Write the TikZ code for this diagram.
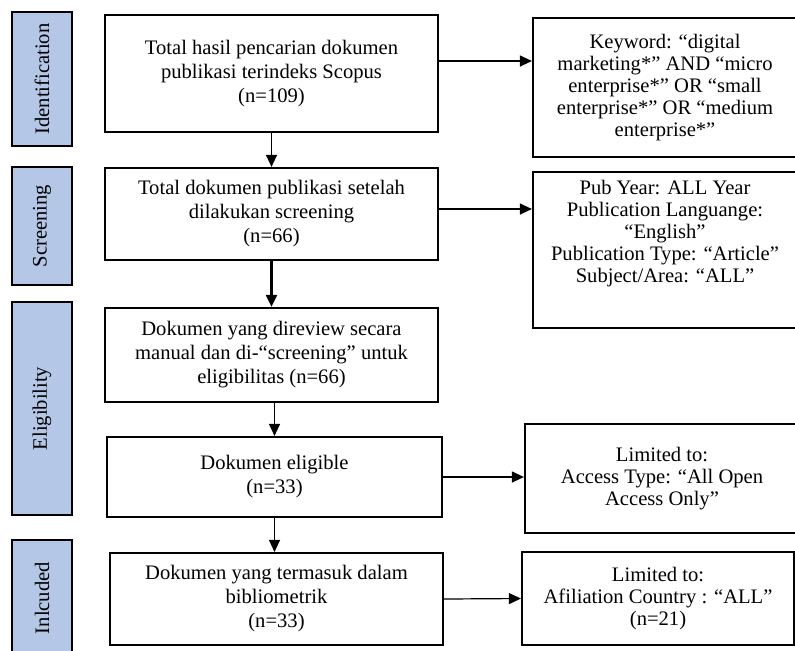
\documentclass[tikz,border=0pt]{standalone}
\usepackage{fontspec}
\setmainfont{Liberation Serif}
\usetikzlibrary{arrows.meta,positioning,calc}
\definecolor{stageblue}{HTML}{B4C7E7}

\begin{document}
\begin{tikzpicture}[x=0.5pt,y=-0.5pt,>={Triangle[length=6pt,width=5.5pt]},font=\fontsize{10.3}{12}\selectfont,stage/.style={draw,line width=1pt,fill=stageblue,rotate=90,minimum height=30pt,inner sep=0pt},block/.style={draw,line width=1.1pt,align=center,minimum width=166.5pt,inner sep=2pt},filter/.style={draw,line width=1.1pt,align=center,font=\fontsize{10.3}{11}\selectfont,inner sep=2pt},flow/.style={->,line width=0.6pt}]
 \useasboundingbox (0,0) rectangle (795,650);
 \clip (0,0) rectangle (795,650);
 \node[stage,minimum width=67pt] (ident) at (42,79) {Identification};
 \node[stage,minimum width=59pt] (screen) at (42,226) {Screening};
 \node[stage,minimum width=106.5pt] (elig) at (42,408.5) {Eligibility};
 \node[stage,minimum width=58pt] (incl) at (42,598) {Inlcuded};
 \node[block,minimum height=58.5pt] (total) at (271.5,73.5) {Total hasil pencarian dokumen\\publikasi terindeks Scopus\\(n=109)};
 \node[block,minimum height=46pt] (screened) at (271.5,214) {Total dokumen publikasi setelah\\dilakukan screening\\(n=66)};
 \node[block,minimum height=47pt] (reviewed) at (271.5,355) {Dokumen yang direview secara\\manual dan di-“screening” untuk\\eligibilitas (n=66)};
 \node[block,minimum width=167.5pt,minimum height=40pt] (eligible) at (274.5,477) {Dokumen eligible\\(n=33)};
 \node[block,minimum height=46pt] (included) at (276.5,599) {Dokumen yang termasuk dalam\\bibliometrik\\(n=33)};
 \node[filter,minimum width=132pt,minimum height=69.5pt] (keyword) at (665,87.5) {Keyword: “digital\\marketing*” AND “micro\\enterprise*” OR “small\\enterprise*” OR “medium\\enterprise*”};
 \node[filter,minimum width=132pt,minimum height=78pt] (criteria) at (665,250) {};
 \node[align=center,font=\fontsize{10.3}{11}\selectfont] (criteriatext) at ([yshift=8pt]criteria.center) {Pub Year: ALL Year\\Publication Languange:\\“English”\\Publication Type: “Article”\\Subject/Area: “ALL”};
 \node[filter,minimum width=137pt,minimum height=54.5pt] (access) at (662,478.5) {Limited to:\\Access Type: “All Open\\Access Only”};
 \node[filter,minimum width=136pt,minimum height=46.5pt] (country) at (658,598.5) {Limited to:\\Afiliation Country : “ALL”\\(n=21)};
 \draw[flow] ([yshift=6.25pt]total.east) -- ([yshift=6.25pt]total.east -| keyword.west);
 \draw[flow] ([yshift=2.5pt]screened.east) -- ([yshift=2.5pt]screened.east -| criteria.west);
 \draw[flow] (eligible.east) -- (eligible.east -| access.west);
 \draw[flow] (included.east) -- (country.west);
 \draw[flow] (total.south) -- (screened.north);
 \draw[flow,line width=1.2pt] (screened.south) -- (reviewed.north);
 \draw[flow] (reviewed.south -| eligible.north) -- (eligible.north);
 \draw[flow] (eligible.south) -- (eligible.south |- included.north);
\end{tikzpicture}
\end{document}
